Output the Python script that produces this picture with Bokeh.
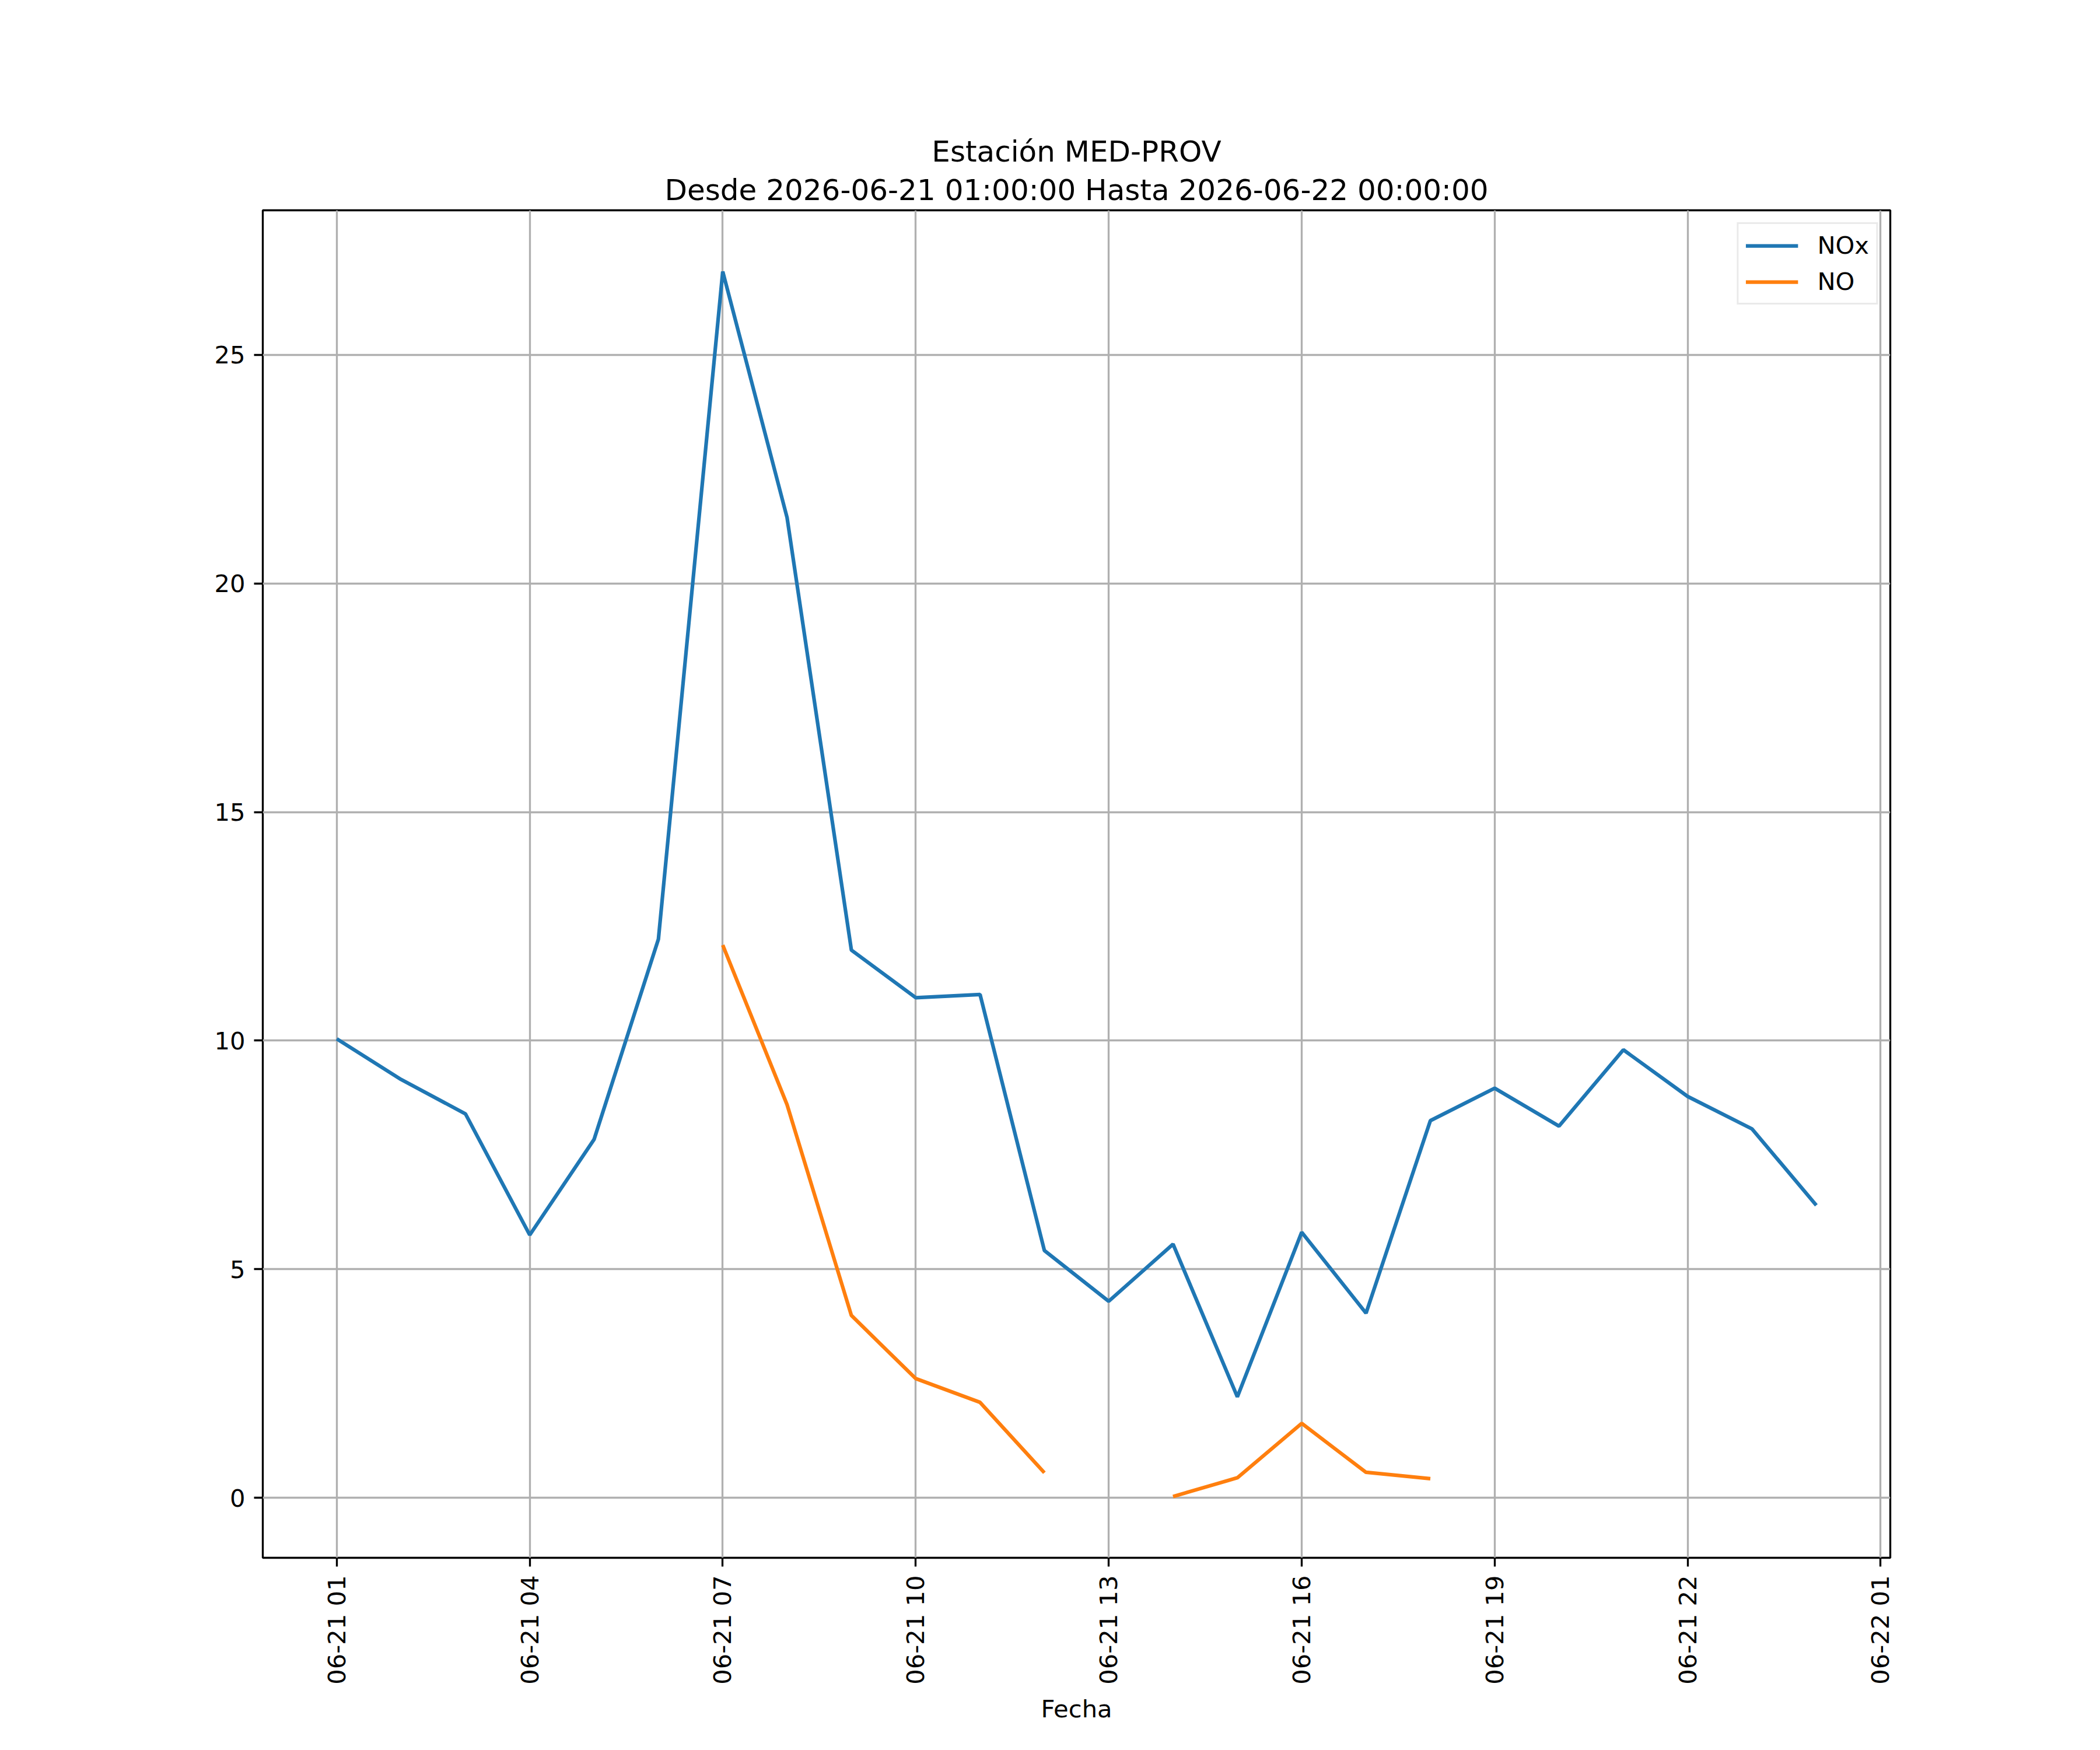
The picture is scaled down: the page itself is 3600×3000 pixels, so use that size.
import math
import numpy as np
import pandas as pd
from bokeh.plotting import figure
from bokeh.models import Range1d, FixedTicker, DatetimeTickFormatter, Title
from bokeh.embed import file_html
from bokeh.resources import INLINE

# ---- data ----
hours = list(pd.date_range("2026-06-21 01:00:00", "2026-06-22 00:00:00", freq="1h"))
nox = [10.04, 9.15, 8.40, 5.75, 7.84, 12.22, 26.82, 21.44, 11.98, 10.94, 11.01, 5.41,
       4.30, 5.55, 2.21, 5.81, 4.04, 8.25, 8.96, 8.13, 9.80, 8.78, 8.07, 6.40]
no = [np.nan, np.nan, np.nan, np.nan, np.nan, np.nan, 12.09, 8.60, 3.99, 2.61, 2.09, 0.55,
      np.nan, 0.03, 0.44, 1.63, 0.56, 0.42, np.nan, np.nan, np.nan, np.nan, np.nan, np.nan]
tick_times = list(pd.date_range("2026-06-21 01:00:00", "2026-06-22 01:00:00", freq="3h"))
y_ticks = [0, 5, 10, 15, 20, 25]
title_line1 = "Estación MED-PROV"
title_line2 = "Desde 2026-06-21 01:00:00 Hasta 2026-06-22 00:00:00"
x_label = "Fecha"

# ---- styles ----
FONT = "DejaVu Sans"
TICK_FS = "41.67px"
TITLE_FS = "50px"
LW = 6.25
THIN = 3.33

x_ms = [t.value / 1e6 for t in hours]
span = x_ms[-1] - x_ms[0]
all_vals = [v for v in nox + no if not (isinstance(v, float) and math.isnan(v))]
ymin, ymax = min(all_vals), max(all_vals)
yspan = ymax - ymin

p = figure(
    frame_width=2790, frame_height=2310,
    min_border_left=450, min_border_right=344, min_border_top=360, min_border_bottom=314,
    x_axis_type="datetime",
    x_range=Range1d(x_ms[0] - 0.05 * span, x_ms[-1] + 0.05 * span),
    y_range=Range1d(ymin - 0.05 * yspan, ymax + 0.05 * yspan),
    output_backend="svg", toolbar_location=None,
    background_fill_color="white", border_fill_color="white",
)

p.line(x_ms, nox, line_color="#1f77b4", line_width=LW, legend_label="NOx")
p.line(x_ms, no, line_color="#ff7f0e", line_width=LW, legend_label="NO")

# titles (added bottom line first: later ones go further up)
p.add_layout(Title(text=title_line2, align="center", text_font=FONT, text_font_size=TITLE_FS,
                   text_font_style="normal", text_color="black", standoff=12), "above")
p.add_layout(Title(text=title_line1, align="center", text_font=FONT, text_font_size=TITLE_FS,
                   text_font_style="normal", text_color="black", standoff=0), "above")

# axes
xa = p.xaxis[0]
xa.ticker = FixedTicker(ticks=[t.value / 1e6 for t in tick_times])
fmt = "%m-%d %H"
xa.formatter = DatetimeTickFormatter(hours=fmt, hourmin=fmt, days=fmt, months=fmt,
                                     minutes=fmt, minsec=fmt, seconds=fmt, years=fmt)
xa.major_label_orientation = math.pi / 2
xa.axis_label = x_label

ya = p.yaxis[0]
ya.ticker = FixedTicker(ticks=y_ticks)

for ax in (xa, ya):
    ax.major_label_text_font = FONT
    ax.major_label_text_font_size = TICK_FS
    ax.major_label_text_color = "black"
    ax.axis_label_text_font = FONT
    ax.axis_label_text_font_size = TICK_FS
    ax.axis_label_text_font_style = "normal"
    ax.axis_label_text_color = "black"
    ax.major_tick_out = 15
    ax.major_tick_in = 0
    ax.major_tick_line_width = THIN
    ax.major_tick_line_color = "black"
    ax.minor_tick_line_color = None
    ax.axis_line_color = None
    ax.major_label_standoff = 15
xa.axis_label_standoff = 14

# grid
for g in (p.xgrid[0], p.ygrid[0]):
    g.grid_line_color = "#b0b0b0"
    g.grid_line_width = THIN

p.outline_line_color = "black"
p.outline_line_width = THIN
p.outline_line_alpha = 1.0

# legend
lg = p.legend[0]
lg.location = "top_right"
lg.margin = 21
lg.padding = 12
lg.spacing = 13
lg.glyph_width = 90
lg.glyph_height = 42
lg.label_height = 42
lg.label_standoff = 33
lg.label_text_font = FONT
lg.label_text_font_size = TICK_FS
lg.label_text_color = "black"
lg.border_line_color = "#d6d6d6"
lg.border_line_width = THIN
lg.background_fill_color = "white"
lg.background_fill_alpha = 0.8

open("out.html", "w").write(file_html(p, INLINE))
